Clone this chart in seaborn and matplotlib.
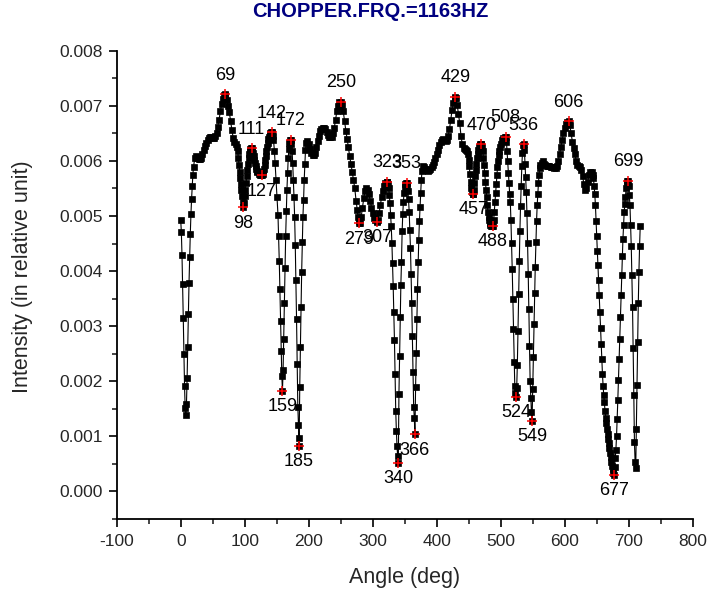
import numpy as np
import pandas as pd
import matplotlib
matplotlib.use('Agg')
import matplotlib.pyplot as plt
import seaborn as sns
from matplotlib.ticker import MultipleLocator, FormatStrFormatter

# Scan data: angle (deg) and intensity (in units of 1e-3, relative)
angle = [
    0, 1, 2, 3, 4, 5, 6, 7, 8, 9, 10, 11, 12, 13, 14, 15, 16, 17, 18, 19, 20,
    22, 24, 26, 28, 30, 32, 34, 36, 38, 40, 42, 44, 46, 48, 50, 52, 54, 56, 58,
    60, 62, 64, 66, 68, 69, 70, 72, 74, 76, 78, 80, 82, 84, 86, 88, 89, 90, 91,
    92, 93, 94, 95, 96, 97, 98, 99, 100, 101, 102, 103, 104, 105, 106, 107, 108,
    109, 110, 111, 112, 113, 114, 115, 116, 117, 118, 119, 120, 122, 124, 126,
    127, 128, 129, 130, 131, 132, 133, 134, 135, 136, 137, 138, 139, 140, 141,
    142, 143, 144, 145, 146.5, 147.5, 149, 150.5, 152, 153, 154, 155, 156, 157,
    158, 159, 160, 161, 162, 163, 164, 165, 166, 167, 168, 169, 170, 171, 172,
    173, 174, 175, 176, 177, 178, 179, 180, 181, 182, 183, 184, 184.5, 185, 186,
    187, 188, 189, 190, 191, 192, 193, 194, 195, 196, 198, 200, 202, 204, 206,
    208, 210, 212, 214, 216, 218, 220, 222, 224, 226, 228, 230, 232, 234, 236,
    238, 240, 242, 244, 246, 248, 250, 252, 254, 256, 258, 260, 262, 264, 266,
    268, 270, 272, 274, 276, 277, 278, 279, 280, 282, 284, 286, 288, 290, 292,
    294, 296, 298, 300, 302, 304, 306, 307, 308, 310, 312, 314, 316, 318, 320,
    322, 323, 324, 325, 326, 327, 328, 329, 330, 331, 332, 333, 334, 335, 336,
    337, 338, 339, 340, 341, 342, 343, 344, 345, 346, 347, 348, 349, 350, 351,
    352, 353, 354, 355, 356, 357, 358, 359, 360, 361, 362, 363, 364, 365, 366,
    367, 368, 369, 370, 371, 372, 373, 374, 375, 376, 377, 378, 380, 382, 384,
    386, 388, 390, 392, 394, 396, 398, 400, 402, 404, 406, 408, 410, 412, 414,
    416, 418, 420, 422, 424, 426, 428, 429, 430, 432, 434, 436, 438, 440, 442,
    444, 446, 448, 449, 450, 451, 452, 453, 454, 455, 456, 457, 458, 459, 460,
    461, 462, 463, 464, 465, 466, 467, 468, 469, 470, 471, 472, 473, 474, 475,
    476, 477, 478, 479, 480, 481, 482, 483, 484, 485, 486, 487, 488, 489, 490,
    491, 492, 493, 494, 495, 496, 497, 498, 499, 500, 502, 504, 506, 508, 509,
    510, 511, 512, 513, 514, 515, 516, 517, 518, 519, 520, 521, 522, 523, 524,
    525, 526, 527, 528, 529, 530, 531, 532, 533, 534, 535, 536, 537, 538, 539,
    540, 541, 542, 543, 544, 545, 546, 547, 548, 549, 550, 551, 552, 553, 554,
    555, 556, 557, 558, 559, 560, 561, 562, 564, 566, 568, 570, 572, 574, 576,
    578, 580, 582, 584, 586, 588, 590, 592, 594, 596, 598, 600, 602, 604, 606,
    608, 610, 612, 614, 616, 618, 620, 622, 624, 626, 628, 630, 632, 634, 636,
    638, 640, 642, 644, 645, 646, 647, 648, 649, 650, 651, 652, 653, 654, 655,
    656, 657, 658, 659, 660, 661, 662, 663, 664, 665, 666, 667, 668, 669, 670,
    671, 672, 673, 674, 675, 676, 677, 678, 679, 680, 681, 682, 683, 684, 685,
    686, 687, 688, 689, 690, 691, 692, 693, 694, 695, 696, 697, 698, 699, 700,
    701, 702, 703, 704, 705, 706, 707, 708, 709, 710, 711, 712, 713, 714, 715,
    716, 717, 718,
]
intensity_e3 = [
    4.93, 4.71, 4.30, 3.76, 3.15, 2.50, 1.91, 1.51, 1.38, 1.59, 2.05, 2.63, 3.22, 3.79, 4.26, 4.68, 5.03, 5.31, 5.54, 5.75, 5.89,
    6.05, 6.08, 6.06, 6.04, 6.03, 6.05, 6.12, 6.20, 6.27, 6.33, 6.38, 6.42, 6.44, 6.43, 6.42, 6.42, 6.45, 6.50, 6.62,
    6.75, 6.90, 7.03, 7.13, 7.19, 7.21, 7.19, 7.10, 7.00, 6.88, 6.72, 6.56, 6.42, 6.35, 6.30, 6.25, 6.18, 6.06, 5.92,
    5.80, 5.68, 5.58, 5.48, 5.36, 5.25, 5.16, 5.24, 5.36, 5.48, 5.60, 5.72, 5.84, 5.95, 6.05, 6.13, 6.18,
    6.22, 6.23, 6.23, 6.20, 6.15, 6.08, 6.02, 5.96, 5.91, 5.86, 5.82, 5.79, 5.76, 5.75, 5.74,
    5.74, 5.76, 5.80, 5.86, 5.93, 6.01, 6.09, 6.17, 6.25, 6.32, 6.39, 6.44, 6.48, 6.51, 6.52,
    6.52, 6.50, 6.45, 6.38, 6.17, 5.96, 5.66, 5.35, 5.02, 4.63, 4.19, 3.67, 3.10, 2.54,
    2.09, 1.83, 2.21, 2.77, 3.42, 4.05, 4.63, 5.09, 5.48, 5.78, 6.05, 6.22, 6.32, 6.37, 6.38,
    6.30, 6.18, 5.96, 5.66, 5.35, 4.99, 4.48, 3.84, 3.13, 2.32, 1.54, 1.21, 0.97, 0.83, 1.89,
    2.62, 3.34, 3.98, 4.53, 4.99, 5.29, 5.66, 5.95, 6.20, 6.33, 6.36, 6.30, 6.22, 6.14, 6.10,
    6.10, 6.15, 6.25, 6.36, 6.46, 6.54, 6.58, 6.60, 6.60, 6.58, 6.52, 6.47, 6.44, 6.43, 6.44,
    6.50, 6.60, 6.75, 6.90, 7.00, 7.06, 7.07, 7.02, 6.90, 6.72, 6.55, 6.40, 6.25, 6.08, 5.95,
    5.80, 5.65, 5.50, 5.28, 5.10, 4.98, 4.91, 4.87, 4.88, 4.98, 5.15, 5.32, 5.45, 5.50, 5.48,
    5.40, 5.28, 5.15, 5.05, 4.97, 4.92, 4.90, 4.89, 4.92, 5.05, 5.20, 5.35, 5.45, 5.54, 5.60,
    5.62, 5.62, 5.58, 5.50, 5.38, 5.23, 5.02, 4.81, 4.51, 4.15, 3.73, 3.26, 2.74, 2.14, 1.46,
    1.10, 0.82, 0.64, 0.52, 1.77, 2.45, 3.16, 3.75, 4.17, 4.72, 5.04, 5.26, 5.42, 5.52, 5.58,
    5.60, 5.60, 5.55, 5.45, 5.30, 5.08, 4.75, 4.42, 3.95, 3.42, 2.83, 2.17, 1.54, 1.33, 1.04,
    1.89, 2.51, 3.13, 3.67, 4.16, 4.57, 4.90, 5.17, 5.42, 5.65, 5.82, 5.90, 5.88, 5.86, 5.84,
    5.82, 5.83, 5.85, 5.88, 5.92, 5.98, 6.05, 6.12, 6.20, 6.28, 6.34, 6.38, 6.40, 6.38, 6.36,
    6.38, 6.45, 6.58, 6.75, 6.92, 7.05, 7.14, 7.16, 7.14, 7.02, 6.85, 6.68, 6.45, 6.30, 6.24,
    6.22, 6.20, 6.18, 6.12, 6.02, 5.90, 5.76, 5.62, 5.50, 5.43, 5.40, 5.40, 5.48, 5.60, 5.72,
    5.84, 5.95, 6.05, 6.13, 6.20, 6.25, 6.28, 6.30, 6.30, 6.30, 6.26, 6.18, 6.06, 5.92, 5.78,
    5.62, 5.48, 5.34, 5.20, 5.08, 4.98, 4.92, 4.87, 4.84, 4.82, 4.82, 4.82, 4.82, 4.92, 5.08,
    5.25, 5.42, 5.58, 5.74, 5.88, 6.00, 6.10, 6.18, 6.25, 6.30, 6.37, 6.42, 6.44, 6.44, 6.35,
    6.17, 5.99, 5.78, 5.60, 5.40, 5.26, 4.92, 4.51, 4.04, 3.50, 2.95, 2.35, 1.92, 1.78, 1.72,
    1.88, 2.30, 2.92, 3.58, 4.19, 4.72, 5.18, 5.55, 5.90, 6.15, 6.28, 6.30, 6.20, 5.95, 5.70,
    5.44, 5.05, 4.51, 3.95, 3.31, 2.64, 2.00, 1.70, 1.45, 1.28, 1.86, 2.44, 3.04, 3.60, 4.08,
    4.52, 4.90, 5.19, 5.40, 5.60, 5.75, 5.87, 5.93, 5.97, 5.99, 5.95, 5.92, 5.90, 5.90, 5.90,
    5.89, 5.88, 5.88, 5.87, 5.87, 5.90, 6.00, 6.12, 6.25, 6.38, 6.50, 6.60, 6.67, 6.71, 6.72,
    6.65, 6.50, 6.35, 6.24, 6.12, 6.00, 5.93, 5.90, 5.88, 5.84, 5.72, 5.58, 5.47, 5.50, 5.62,
    5.75, 5.80, 5.80, 5.74, 5.68, 5.55, 5.40, 5.20, 4.90, 4.64, 4.37, 4.11, 3.84, 3.56, 3.26,
    2.97, 2.68, 2.40, 2.13, 1.92, 1.75, 1.62, 1.46, 1.34, 1.24, 1.14, 1.05, 0.96, 0.87, 0.78,
    0.70, 0.62, 0.54, 0.46, 0.40, 0.34, 0.30, 0.45, 0.60, 0.76, 1.00, 1.31, 1.66, 2.03, 2.40,
    2.77, 3.16, 3.57, 3.93, 4.28, 4.58, 4.84, 5.08, 5.22, 5.35, 5.50, 5.58, 5.63, 5.64, 5.55,
    5.38, 5.19, 4.84, 4.45, 3.93, 3.34, 2.60, 1.75, 0.89, 0.54, 0.42, 1.13, 1.94, 2.72, 3.42,
    3.99, 4.45, 4.81,
]

# Marked extrema (angle labels) and whether they sit on a peak (True) or valley (False)
ext_angles = [69, 98, 111, 127, 142, 159, 172, 185, 250, 279, 307, 323, 340,
              353, 366, 429, 457, 470, 488, 508, 524, 536, 549, 606, 677, 699]
ext_is_peak = [True, False, True, False, True, False, True, False, True, False,
               False, True, False, True, False, True, False, True, False, True,
               False, True, False, True, False, True]

df = pd.DataFrame({'angle': angle, 'intensity': np.array(intensity_e3) * 1e-3})
lookup = dict(zip(df['angle'], df['intensity']))
ext = pd.DataFrame({'angle': ext_angles,
                    'intensity': [lookup[a] for a in ext_angles],
                    'peak': ext_is_peak})

sns.set_style('ticks')
plt.rcParams['font.family'] = ['Liberation Sans', 'DejaVu Sans']
plt.rcParams['axes.unicode_minus'] = False

fig = plt.figure(figsize=(7.09, 5.94), dpi=100)
ax = fig.add_axes([0.1646, 0.1263, 0.8124, 0.7884])

sns.lineplot(data=df, x='angle', y='intensity', sort=False, estimator=None,
             color='black', linewidth=0.8, marker='s', markersize=4.4,
             markeredgecolor='black', markeredgewidth=0.5, ax=ax)
sns.scatterplot(data=ext, x='angle', y='intensity', marker='+', color='red',
                s=55, linewidth=1.1, ax=ax, zorder=4)

for _, row in ext.iterrows():
    dy = 13.7 if row['peak'] else -11.5
    ax.annotate(str(int(row['angle'])), (row['angle'], row['intensity']),
                xytext=(0, dy), textcoords='offset points',
                ha='center', va='center', fontsize=13, color='black')

ax.set_xlim(-100, 800)
ax.set_ylim(-0.0005, 0.008)
ax.xaxis.set_major_locator(MultipleLocator(100))
ax.xaxis.set_minor_locator(MultipleLocator(50))
ax.yaxis.set_major_locator(MultipleLocator(0.001))
ax.yaxis.set_minor_locator(MultipleLocator(0.0005))
ax.yaxis.set_major_formatter(FormatStrFormatter('%.3f'))
ax.tick_params(which='major', direction='out', length=6, width=1.2,
               labelsize=12.5, color='black')
ax.tick_params(axis='x', which='major', pad=5)
ax.tick_params(axis='y', which='major', pad=4)
ax.tick_params(which='minor', direction='out', length=3.5, width=1.2)
sns.despine(ax=ax)
for side in ['left', 'bottom']:
    ax.spines[side].set_linewidth(1.3)
    ax.spines[side].set_color('black')

ax.set_xlabel('Angle (deg)', fontsize=15.5)
ax.set_ylabel('Intensity (in relative unit)', fontsize=15.5)
ax.xaxis.label.set_va('center')
ax.yaxis.label.set_va('center')
ax.xaxis.set_label_coords(0.5, -0.126)
ax.yaxis.set_label_coords(-0.164, 0.517)

fig.text(0.522, 0.981, 'CHOPPER.FRQ.=1163HZ', ha='center', va='center',
         fontsize=14.5, fontweight='bold', color='#000080')

fig.savefig('out.png', dpi=100)
